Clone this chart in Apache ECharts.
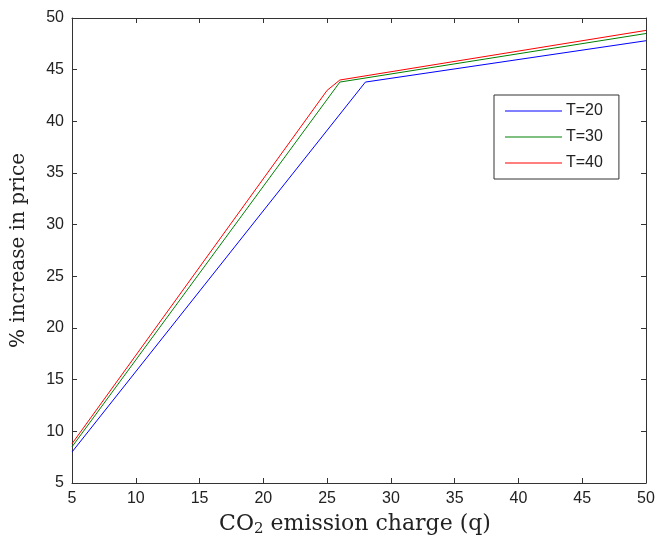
<!DOCTYPE html>
<html>
<head>
<meta charset="utf-8">
<script src="https://cdn.jsdelivr.net/npm/echarts@6/dist/echarts.min.js"></script>
<style>
  html, body { margin: 0; padding: 0; background: #fff; }
  #chart { width: 655px; height: 539px; }
</style>
</head>
<body>
<div id="chart"></div>
<script>
// series names
var seriesNames = ["T=20", "T=30", "T=40"];
// [q, % increase] break points
var t20 = [[5, 8.0], [28, 43.8], [50, 47.8]];
var t30 = [[5, 8.5], [26, 43.8], [50, 48.5]];
var t40 = [[5, 8.8], [25, 43.0], [26, 44.0], [50, 48.8]];
var colors = ["#0000ff", "#008000", "#ff0000"];

var axisColor = "#333";
var labelFont = "Liberation Sans";
var serifFont = "DejaVu Serif";

var chart = echarts.init(document.getElementById("chart"));

function mirrorAxis(pos) {
  return {
    type: "value",
    position: pos,
    min: 5,
    max: 50,
    interval: 5,
    axisLine: { show: true, lineStyle: { color: axisColor, width: 1 } },
    axisTick: { show: true, inside: true, length: 5, lineStyle: { color: axisColor } },
    axisLabel: { show: false },
    splitLine: { show: false }
  };
}

var option = {
  animation: false,
  backgroundColor: "#fff",
  grid: {
    left: 72,
    right: 9,
    top: 18,
    bottom: 56,
    outerBoundsMode: "none"
  },
  legend: {
    orient: "vertical",
    left: 494,
    top: 95,
    padding: [8, 16, 8, 11],
    itemGap: 10,
    itemWidth: 57,
    itemHeight: 1,
    icon: "rect",
    backgroundColor: "#fff",
    borderColor: axisColor,
    borderWidth: 1,
    borderRadius: 0,
    textStyle: { fontFamily: labelFont, fontSize: 16, color: "#222", padding: [0, 0, 0, -1] },
    data: seriesNames
  },
  xAxis: [
    {
      type: "value",
      min: 5,
      max: 50,
      interval: 5,
      name: "CO{sub|2} emission charge (q)",
      nameLocation: "middle",
      nameGap: 29,
      nameTextStyle: {
        fontFamily: serifFont,
        fontSize: 22,
        color: "#222",
        padding: [0, 8, 0, 0],
        rich: {
          sub: { fontFamily: serifFont, fontSize: 15, verticalAlign: "bottom", padding: [10, 0, 0, 0] }
        }
      },
      axisLine: { show: true, lineStyle: { color: axisColor, width: 1 } },
      axisTick: { show: true, inside: true, length: 5, lineStyle: { color: axisColor } },
      axisLabel: { fontFamily: labelFont, fontSize: 16, color: "#222", margin: 8 },
      splitLine: { show: false }
    },
    mirrorAxis("top")
  ],
  yAxis: [
    {
      type: "value",
      min: 5,
      max: 50,
      interval: 5,
      name: "% increase in price",
      nameLocation: "middle",
      nameGap: 43,
      nameTextStyle: { fontFamily: serifFont, fontSize: 20, color: "#222" },
      axisLine: { show: true, lineStyle: { color: axisColor, width: 1 } },
      axisTick: { show: true, inside: true, length: 5, lineStyle: { color: axisColor } },
      axisLabel: { fontFamily: labelFont, fontSize: 16, color: "#222", margin: 8 },
      splitLine: { show: false }
    },
    mirrorAxis("right")
  ],
  series: [
    { name: seriesNames[0], type: "line", data: t20, symbol: "none", lineStyle: { width: 1, color: colors[0] }, itemStyle: { color: colors[0] } },
    { name: seriesNames[1], type: "line", data: t30, symbol: "none", lineStyle: { width: 1, color: colors[1] }, itemStyle: { color: colors[1] } },
    { name: seriesNames[2], type: "line", data: t40, symbol: "none", lineStyle: { width: 1, color: colors[2] }, itemStyle: { color: colors[2] } }
  ]
};

chart.setOption(option);
</script>
</body>
</html>
